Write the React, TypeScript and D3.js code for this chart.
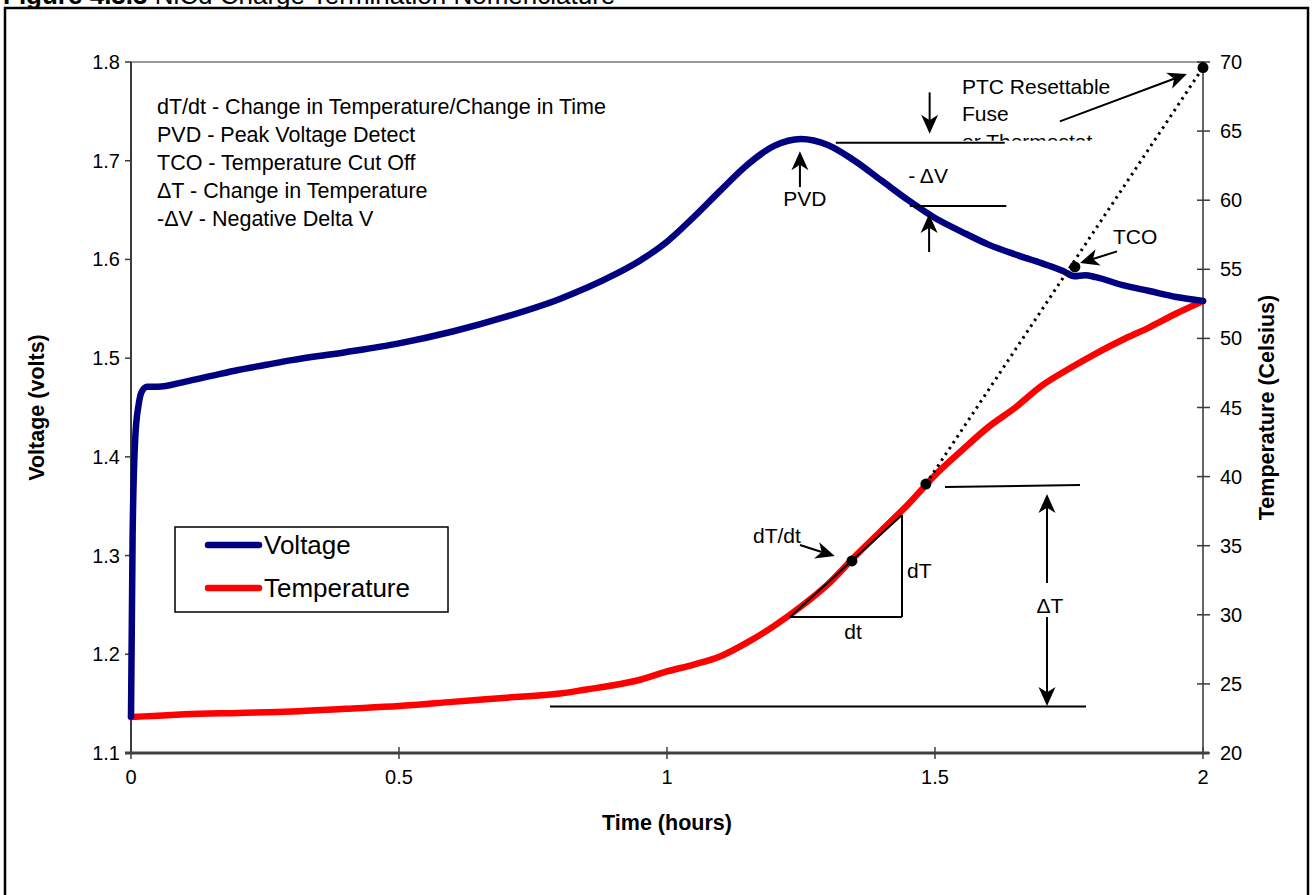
import React from 'react';
import * as d3 from 'd3';

// ---------- data ----------
const timeTicks = [0, 0.5, 1, 1.5, 2];
const voltTicks = [1.1, 1.2, 1.3, 1.4, 1.5, 1.6, 1.7, 1.8];
const tempTicks = [20, 25, 30, 35, 40, 45, 50, 55, 60, 65, 70];

// [time (hours), voltage (V)]
const voltageSeries: [number, number][] = [
  [0, 1.137], [0.003, 1.32], [0.008, 1.42], [0.014, 1.452], [0.02, 1.466], [0.03, 1.471],
  [0.05, 1.471], [0.1, 1.476], [0.15, 1.482], [0.2, 1.488], [0.25, 1.493], [0.3, 1.498],
  [0.4, 1.506], [0.5, 1.515], [0.6, 1.527], [0.7, 1.542], [0.8, 1.560], [0.9, 1.584],
  [0.95, 1.599], [1.0, 1.618], [1.05, 1.643], [1.1, 1.670], [1.15, 1.696], [1.2, 1.715],
  [1.25, 1.722], [1.3, 1.716], [1.35, 1.700], [1.4, 1.680], [1.45, 1.660], [1.5, 1.642],
  [1.55, 1.628], [1.6, 1.615], [1.65, 1.605], [1.7, 1.596], [1.74, 1.588], [1.76, 1.583],
  [1.78, 1.584], [1.8, 1.582], [1.85, 1.574], [1.9, 1.568], [1.95, 1.562], [2.0, 1.558],
];

// [time (hours), temperature (°C)]
const temperatureSeries: [number, number][] = [
  [0, 22.6], [0.05, 22.7], [0.1, 22.8], [0.2, 22.9], [0.3, 23.0], [0.4, 23.2], [0.5, 23.4],
  [0.6, 23.7], [0.7, 24.0], [0.8, 24.3], [0.85, 24.6], [0.9, 24.9], [0.95, 25.3], [1.0, 25.9],
  [1.05, 26.4], [1.1, 27.0], [1.15, 28.0], [1.2, 29.2], [1.25, 30.6], [1.3, 32.2], [1.35, 34.2],
  [1.4, 36.1], [1.45, 38.0], [1.5, 40.1], [1.55, 41.9], [1.6, 43.6], [1.65, 45.0], [1.7, 46.6],
  [1.75, 47.8], [1.8, 48.9], [1.85, 49.9], [1.9, 50.8], [1.95, 51.8], [2.0, 52.7],
];

const legendItems = [
  { label: 'Voltage', color: '#000080' },
  { label: 'Temperature', color: '#FF0000' },
];

const notes = [
  'dT/dt - Change in Temperature/Change in Time',
  'PVD - Peak Voltage Detect',
  'TCO - Temperature Cut Off',
  '\u0394T - Change in Temperature',
  '-\u0394V - Negative Delta V',
];

// annotations in data units: [time, temperature]
const annArrows: { from: [number, number]; to: [number, number] }[] = [
  { from: [1.248, 60.95], to: [1.248, 63.55] },
  { from: [1.49, 67.8], to: [1.49, 64.8] },
  { from: [1.489, 56.25], to: [1.489, 59.0] },
  { from: [1.733, 65.7], to: [1.97, 69.13] },
  { from: [1.8396, 56.3], to: [1.7705, 55.45] },
  { from: [1.248, 35.05], to: [1.313, 34.25] },
  { from: [1.709, 32.3], to: [1.709, 38.74] },
  { from: [1.709, 29.84], to: [1.709, 23.4] },
];
const annLines: [number, number][][] = [
  [[1.315, 64.15], [1.63, 64.15]],
  [[1.453, 59.58], [1.633, 59.58]],
  [[1.2295, 29.84], [1.4384, 37.22]],
  [[1.4384, 37.22], [1.4384, 29.84]],
  [[1.2295, 29.84], [1.4384, 29.84]],
  [[1.5187, 39.25], [1.7705, 39.39]],
  [[0.7817, 23.37], [1.7817, 23.37]],
];
const dottedLine: [number, number][] = [[1.483, 39.46], [2.0, 69.6]];
const annDots: [number, number][] = [[1.483, 39.46], [1.761, 55.17], [2.0, 69.6], [1.345, 33.9]];
const annLabels: { text: string; t: number; T: number; anchor: string; clip?: boolean }[] = [
  { text: 'PVD', t: 1.257, T: 59.6, anchor: 'middle' },
  { text: '- \u0394V', t: 1.45, T: 61.25, anchor: 'start' },
  { text: 'PTC Resettable', t: 1.5504, T: 67.68, anchor: 'start' },
  { text: 'Fuse', t: 1.5504, T: 65.7, anchor: 'start' },
  { text: 'or Thermostat', t: 1.5504, T: 63.72, anchor: 'start', clip: true },
  { text: 'TCO', t: 1.832, T: 56.83, anchor: 'start' },
  { text: 'dT/dt', t: 1.1604, T: 35.2, anchor: 'start' },
  { text: 'dT', t: 1.4478, T: 32.66, anchor: 'start' },
  { text: 'dt', t: 1.347, T: 28.25, anchor: 'middle' },
  { text: '\u0394T', t: 1.7146, T: 30.13, anchor: 'middle' },
];

const FONT = 'Liberation Sans, Arial, Helvetica, sans-serif';

function Arrow({ x1, y1, x2, y2 }: { x1: number; y1: number; x2: number; y2: number }) {
  const len = 19, half = 8.5;
  const a = Math.atan2(y2 - y1, x2 - x1);
  const c = Math.cos(a), s = Math.sin(a);
  const bx = x2 - len * c, by = y2 - len * s;
  const nx = x2 - len * 0.72 * c, ny = y2 - len * 0.72 * s;
  const lx = bx - half * s, ly = by + half * c;
  const rx = bx + half * s, ry = by - half * c;
  return (
    <g>
      <line x1={x1} y1={y1} x2={nx} y2={ny} stroke="#000" strokeWidth={2} />
      <path d={`M${x2},${y2}L${lx},${ly}L${nx},${ny}L${rx},${ry}Z`} fill="#000" />
    </g>
  );
}

export default function App() {
  const x = d3.scaleLinear().domain([0, 2]).range([131, 1203]);
  const yV = d3.scaleLinear().domain([1.1, 1.8]).range([753, 62]);
  const yT = d3.scaleLinear().domain([20, 70]).range([753, 62]);

  const lineV = d3.line<[number, number]>().x(d => x(d[0])).y(d => yV(d[1])).curve(d3.curveMonotoneX);
  const lineT = d3.line<[number, number]>().x(d => x(d[0])).y(d => yT(d[1])).curve(d3.curveMonotoneX);

  const [x0, x1] = x.range();
  const yTop = yV(1.8), yBot = yV(1.1);

  return (
    <svg width={1314} height={895} style={{ position: 'absolute', left: 0, top: 0, background: '#fff' }}
      fontFamily={FONT}>
      <defs>
        <clipPath id="ptcClip">
          <rect x={x(1.5)} y={yT(70)} width={x(2) - x(1.5)} height={yT(64.3) - yT(70)} />
        </clipPath>
      </defs>
      <rect x={0} y={0} width={1314} height={895} fill="#fff" />
      {/* title, partly cut off at top */}
      <text x={3} y={3.5} fontSize={26} fill="#000">
        <tspan fontWeight="bold">Figure 4.3.3 </tspan>
        <tspan>NiCd Charge Termination Nomenclature</tspan>
      </text>
      {/* outer frame */}
      <rect x={5} y={8} width={1303} height={900} fill="none" stroke="#000" strokeWidth={2.5} />

      {/* plot area border */}
      <rect x={x0} y={yTop} width={x1 - x0} height={yBot - yTop} fill="none" stroke="#9a9a9a" strokeWidth={2} />

      {/* left axis */}
      <line x1={x0} y1={yTop} x2={x0} y2={yBot} stroke="#3a3a3a" strokeWidth={2} />
      {voltTicks.map(v => (
        <g key={'v' + v}>
          <line x1={x0 - 6} x2={x0} y1={yV(v)} y2={yV(v)} stroke="#3a3a3a" strokeWidth={1.5} />
          <text x={x0 - 11} y={yV(v)} dy="0.35em" textAnchor="end" fontSize={20}>{v.toFixed(1)}</text>
        </g>
      ))}
      {/* right axis */}
      <line x1={x1} y1={yTop} x2={x1} y2={yBot} stroke="#666" strokeWidth={2} />
      {tempTicks.map(t => (
        <g key={'t' + t}>
          <line x1={x1 - 6} x2={x1 + 7} y1={yT(t)} y2={yT(t)} stroke="#3a3a3a" strokeWidth={1.5} />
          <text x={x1 + 17} y={yT(t)} dy="0.35em" textAnchor="start" fontSize={20}>{t}</text>
        </g>
      ))}
      {/* bottom axis */}
      <line x1={x0 - 6} y1={yBot} x2={x1 + 6} y2={yBot} stroke="#404040" strokeWidth={3} />
      {timeTicks.map(t => (
        <g key={'x' + t}>
          <line x1={x(t)} x2={x(t)} y1={yBot - 6} y2={yBot + 6} stroke="#404040" strokeWidth={1.5} />
          <text x={x(t)} y={yBot + 31} textAnchor="middle" fontSize={20}>{t}</text>
        </g>
      ))}

      {/* axis titles */}
      <text x={(x0 + x1) / 2} y={830} textAnchor="middle" fontSize={21.5} fontWeight="bold">Time (hours)</text>
      <text transform={`translate(36,${(yTop + yBot) / 2}) rotate(-90)`} textAnchor="middle" dy="0.35em"
        fontSize={21.5} fontWeight="bold">Voltage (volts)</text>
      <text transform={`translate(1266,${(yTop + yBot) / 2}) rotate(-90)`} textAnchor="middle" dy="0.35em"
        fontSize={21.5} fontWeight="bold">Temperature (Celsius)</text>

      {/* series */}
      <path d={lineT(temperatureSeries) || ''} fill="none" stroke="#FF0000" strokeWidth={6.5}
        strokeLinejoin="round" strokeLinecap="round" />
      <path d={lineV(voltageSeries) || ''} fill="none" stroke="#000080" strokeWidth={6.5}
        strokeLinejoin="round" strokeLinecap="round" />

      {/* notes block */}
      {notes.map((n, i) => (
        <text key={n} x={157} y={114 + i * 28} fontSize={21.5}>{n}</text>
      ))}

      {/* annotations */}
      {annLines.map((l, i) => (
        <line key={'l' + i} x1={x(l[0][0])} y1={yT(l[0][1])} x2={x(l[1][0])} y2={yT(l[1][1])}
          stroke="#000" strokeWidth={2} />
      ))}
      <line x1={x(dottedLine[0][0])} y1={yT(dottedLine[0][1])} x2={x(dottedLine[1][0])} y2={yT(dottedLine[1][1])}
        stroke="#000" strokeWidth={3} strokeDasharray="2.5 4.5" />
      {annArrows.map((a, i) => (
        <Arrow key={'a' + i} x1={x(a.from[0])} y1={yT(a.from[1])} x2={x(a.to[0])} y2={yT(a.to[1])} />
      ))}
      {annDots.map((d, i) => (
        <circle key={'d' + i} cx={x(d[0])} cy={yT(d[1])} r={5.5} fill="#000" />
      ))}
      {annLabels.map((l, i) => (
        <text key={'t' + i} x={x(l.t)} y={yT(l.T)} textAnchor={l.anchor} fontSize={21}
          clipPath={l.clip ? 'url(#ptcClip)' : undefined}>{l.text}</text>
      ))}

      {/* legend */}
      <rect x={175} y={527} width={273} height={85} fill="#fff" stroke="#000" strokeWidth={1.5} />
      {legendItems.map((it, i) => (
        <g key={it.label}>
          <line x1={208} x2={259} y1={545 + i * 43} y2={545 + i * 43} stroke={it.color} strokeWidth={6.5}
            strokeLinecap="round" />
          <text x={264} y={545 + i * 43} dy="0.36em" fontSize={26}>{it.label}</text>
        </g>
      ))}
    </svg>
  );
}
